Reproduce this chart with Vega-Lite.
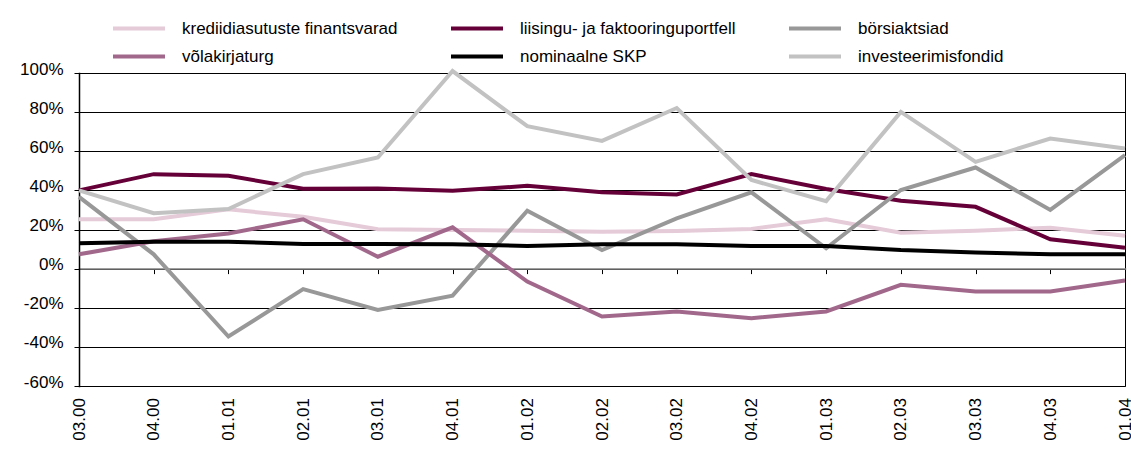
{
  "$schema": "https://vega.github.io/schema/vega-lite/v6.json",
  "width": 1046,
  "height": 313,
  "autosize": {"type": "none"},
  "padding": {"left": 79, "top": 73, "right": 6, "bottom": 73},
  "background": "#ffffff",
  "data": {
    "values": [
      {"q": "03.00", "s": "krediidiasutuste finantsvarad", "v": 25.2},
      {"q": "04.00", "s": "krediidiasutuste finantsvarad", "v": 25.2},
      {"q": "01.01", "s": "krediidiasutuste finantsvarad", "v": 30.3},
      {"q": "02.01", "s": "krediidiasutuste finantsvarad", "v": 26.5},
      {"q": "03.01", "s": "krediidiasutuste finantsvarad", "v": 20.1},
      {"q": "04.01", "s": "krediidiasutuste finantsvarad", "v": 19.7},
      {"q": "01.02", "s": "krediidiasutuste finantsvarad", "v": 19.4},
      {"q": "02.02", "s": "krediidiasutuste finantsvarad", "v": 18.9},
      {"q": "03.02", "s": "krediidiasutuste finantsvarad", "v": 19.2},
      {"q": "04.02", "s": "krediidiasutuste finantsvarad", "v": 20.3},
      {"q": "01.03", "s": "krediidiasutuste finantsvarad", "v": 25.2},
      {"q": "02.03", "s": "krediidiasutuste finantsvarad", "v": 18.4},
      {"q": "03.03", "s": "krediidiasutuste finantsvarad", "v": 19.4},
      {"q": "04.03", "s": "krediidiasutuste finantsvarad", "v": 20.9},
      {"q": "01.04", "s": "krediidiasutuste finantsvarad", "v": 16.8},

      {"q": "03.00", "s": "liisingu- ja faktooringuportfell", "v": 40},
      {"q": "04.00", "s": "liisingu- ja faktooringuportfell", "v": 48.3},
      {"q": "01.01", "s": "liisingu- ja faktooringuportfell", "v": 47.5},
      {"q": "02.01", "s": "liisingu- ja faktooringuportfell", "v": 40.8},
      {"q": "03.01", "s": "liisingu- ja faktooringuportfell", "v": 41},
      {"q": "04.01", "s": "liisingu- ja faktooringuportfell", "v": 39.8},
      {"q": "01.02", "s": "liisingu- ja faktooringuportfell", "v": 42.3},
      {"q": "02.02", "s": "liisingu- ja faktooringuportfell", "v": 39},
      {"q": "03.02", "s": "liisingu- ja faktooringuportfell", "v": 37.9},
      {"q": "04.02", "s": "liisingu- ja faktooringuportfell", "v": 48.3},
      {"q": "01.03", "s": "liisingu- ja faktooringuportfell", "v": 40.7},
      {"q": "02.03", "s": "liisingu- ja faktooringuportfell", "v": 34.7},
      {"q": "03.03", "s": "liisingu- ja faktooringuportfell", "v": 31.6},
      {"q": "04.03", "s": "liisingu- ja faktooringuportfell", "v": 15},
      {"q": "01.04", "s": "liisingu- ja faktooringuportfell", "v": 10.7},

      {"q": "03.00", "s": "börsiaktsiad", "v": 36.7},
      {"q": "04.00", "s": "börsiaktsiad", "v": 7.3},
      {"q": "01.01", "s": "börsiaktsiad", "v": -34.7},
      {"q": "02.01", "s": "börsiaktsiad", "v": -10.5},
      {"q": "03.01", "s": "börsiaktsiad", "v": -21.1},
      {"q": "04.01", "s": "börsiaktsiad", "v": -13.8},
      {"q": "01.02", "s": "börsiaktsiad", "v": 29.6},
      {"q": "02.02", "s": "börsiaktsiad", "v": 9.5},
      {"q": "03.02", "s": "börsiaktsiad", "v": 25.7},
      {"q": "04.02", "s": "börsiaktsiad", "v": 39},
      {"q": "01.03", "s": "börsiaktsiad", "v": 10.4},
      {"q": "02.03", "s": "börsiaktsiad", "v": 40.2},
      {"q": "03.03", "s": "börsiaktsiad", "v": 51.7},
      {"q": "04.03", "s": "börsiaktsiad", "v": 30},
      {"q": "01.04", "s": "börsiaktsiad", "v": 58},

      {"q": "03.00", "s": "võlakirjaturg", "v": 7.3},
      {"q": "04.00", "s": "võlakirjaturg", "v": 14},
      {"q": "01.01", "s": "võlakirjaturg", "v": 18},
      {"q": "02.01", "s": "võlakirjaturg", "v": 25.2},
      {"q": "03.01", "s": "võlakirjaturg", "v": 6.1},
      {"q": "04.01", "s": "võlakirjaturg", "v": 21.1},
      {"q": "01.02", "s": "võlakirjaturg", "v": -6.6},
      {"q": "02.02", "s": "võlakirjaturg", "v": -24.5},
      {"q": "03.02", "s": "võlakirjaturg", "v": -21.9},
      {"q": "04.02", "s": "võlakirjaturg", "v": -25.3},
      {"q": "01.03", "s": "võlakirjaturg", "v": -21.9},
      {"q": "02.03", "s": "võlakirjaturg", "v": -8.3},
      {"q": "03.03", "s": "võlakirjaturg", "v": -11.7},
      {"q": "04.03", "s": "võlakirjaturg", "v": -11.7},
      {"q": "01.04", "s": "võlakirjaturg", "v": -6.1},

      {"q": "03.00", "s": "nominaalne SKP", "v": 13},
      {"q": "04.00", "s": "nominaalne SKP", "v": 13.8},
      {"q": "01.01", "s": "nominaalne SKP", "v": 13.8},
      {"q": "02.01", "s": "nominaalne SKP", "v": 12.6},
      {"q": "03.01", "s": "nominaalne SKP", "v": 12.6},
      {"q": "04.01", "s": "nominaalne SKP", "v": 12.4},
      {"q": "01.02", "s": "nominaalne SKP", "v": 11.6},
      {"q": "02.02", "s": "nominaalne SKP", "v": 12.4},
      {"q": "03.02", "s": "nominaalne SKP", "v": 12.4},
      {"q": "04.02", "s": "nominaalne SKP", "v": 11.6},
      {"q": "01.03", "s": "nominaalne SKP", "v": 11.6},
      {"q": "02.03", "s": "nominaalne SKP", "v": 9.5},
      {"q": "03.03", "s": "nominaalne SKP", "v": 8.3},
      {"q": "04.03", "s": "nominaalne SKP", "v": 7.3},
      {"q": "01.04", "s": "nominaalne SKP", "v": 7.3},

      {"q": "03.00", "s": "investeerimisfondid", "v": 40},
      {"q": "04.00", "s": "investeerimisfondid", "v": 28.3},
      {"q": "01.01", "s": "investeerimisfondid", "v": 30.5},
      {"q": "02.01", "s": "investeerimisfondid", "v": 48.3},
      {"q": "03.01", "s": "investeerimisfondid", "v": 56.8},
      {"q": "04.01", "s": "investeerimisfondid", "v": 101},
      {"q": "01.02", "s": "investeerimisfondid", "v": 72.8},
      {"q": "02.02", "s": "investeerimisfondid", "v": 65.3},
      {"q": "03.02", "s": "investeerimisfondid", "v": 82.1},
      {"q": "04.02", "s": "investeerimisfondid", "v": 45.3},
      {"q": "01.03", "s": "investeerimisfondid", "v": 34.5},
      {"q": "02.03", "s": "investeerimisfondid", "v": 80.1},
      {"q": "03.03", "s": "investeerimisfondid", "v": 54.6},
      {"q": "04.03", "s": "investeerimisfondid", "v": 66.5},
      {"q": "01.04", "s": "investeerimisfondid", "v": 61.4}
    ]
  },
  "mark": {"type": "line", "strokeWidth": 4, "clip": false, "strokeJoin": "miter", "strokeCap": "butt"},
  "encoding": {
    "x": {
      "field": "q",
      "type": "ordinal",
      "sort": null,
      "scale": {"type": "point", "padding": 0},
      "axis": {
        "title": null,
        "offset": -117.4,
        "domainColor": "#808080",
        "domainWidth": 1.5,
        "tickColor": "#000000",
        "tickSize": 5,
        "tickWidth": 1,
        "labelAngle": -90,
        "labelPadding": 124,
        "labelFont": "Liberation Sans",
        "labelFontSize": 17,
        "labelColor": "#000000",
        "labelOverlap": false,
        "grid": false
      }
    },
    "y": {
      "field": "v",
      "type": "quantitative",
      "scale": {"domain": [-60, 100], "nice": false, "zero": false},
      "axis": {
        "title": null,
        "values": [-60, -40, -20, 0, 20, 40, 60, 80, 100],
        "labelExpr": "datum.value + '%'",
        "domainColor": "#000000",
        "domainWidth": 1.5,
        "tickColor": "#000000",
        "tickSize": 5,
        "labelPadding": 11,
        "labelOffset": -4,
        "labelFont": "Liberation Sans",
        "labelFontSize": 17,
        "labelColor": "#000000",
        "grid": true,
        "gridColor": "#000000",
        "gridWidth": 1
      }
    },
    "color": {
      "field": "s",
      "type": "nominal",
      "scale": {
        "domain": ["krediidiasutuste finantsvarad", "võlakirjaturg", "liisingu- ja faktooringuportfell", "nominaalne SKP", "börsiaktsiad", "investeerimisfondid"],
        "range": ["#E5CAD8", "#A2688C", "#660038", "#000000", "#989898", "#C2C2C2"]
      },
      "legend": {
        "title": null,
        "orient": "none",
        "legendX": 32,
        "legendY": -53,
        "columns": 3,
        "gridAlign": "all",
        "columnPadding": 51,
        "rowPadding": 10,
        "symbolType": "stroke",
        "symbolSize": 2704,
        "symbolStrokeWidth": 4,
        "symbolOpacity": 1,
        "clipHeight": 17,
        "labelFont": "Liberation Sans",
        "labelFontSize": 17,
        "labelColor": "#000000",
        "labelOffset": 15,
        "labelLimit": 400,
        "padding": 0
      }
    }
  },
  "config": {
    "view": {"stroke": "#000000", "strokeWidth": 1},
    "axis": {"domainCap": "square"}
  }
}
